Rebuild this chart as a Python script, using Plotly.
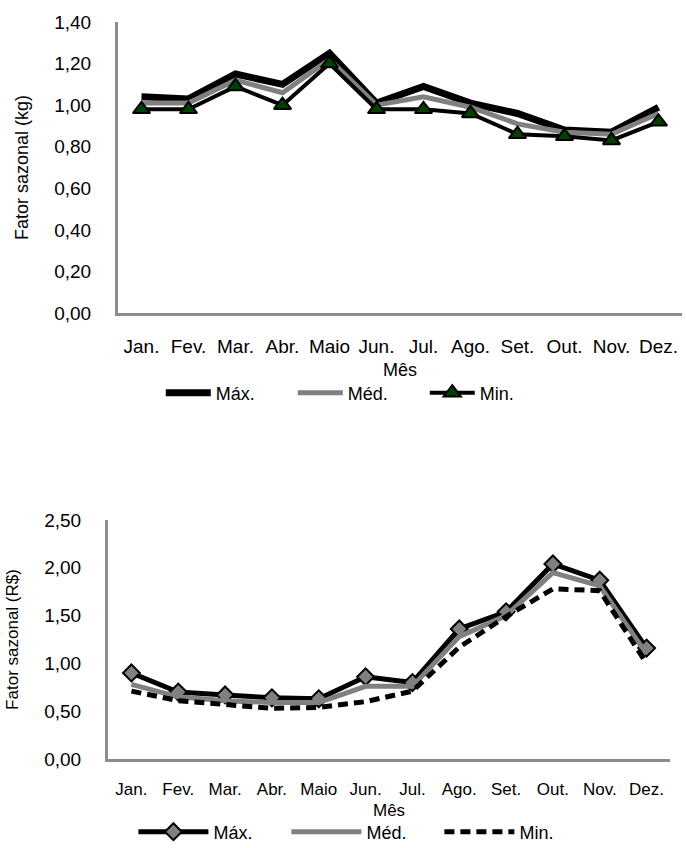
import plotly.graph_objects as go

# Monthly seasonal factors
months = ["Jan.", "Fev.", "Mar.", "Abr.", "Maio", "Jun.", "Jul.", "Ago.", "Set.", "Out.", "Nov.", "Dez."]

# Seasonal factor for quantity (kg)
kg_max = [1.04, 1.03, 1.15, 1.10, 1.25, 1.01, 1.09, 1.01, 0.96, 0.88, 0.87, 0.99]
kg_med = [1.01, 1.01, 1.12, 1.06, 1.22, 1.00, 1.04, 0.99, 0.91, 0.87, 0.86, 0.96]
kg_min = [0.98, 0.98, 1.09, 1.00, 1.20, 0.98, 0.98, 0.96, 0.86, 0.85, 0.83, 0.92]

# Seasonal factor for price (R$)
rs_max = [0.90, 0.70, 0.67, 0.64, 0.63, 0.86, 0.80, 1.36, 1.54, 2.04, 1.87, 1.16]
rs_med = [0.78, 0.65, 0.61, 0.59, 0.59, 0.76, 0.76, 1.28, 1.50, 1.95, 1.81, 1.10]
rs_min = [0.71, 0.61, 0.57, 0.53, 0.54, 0.60, 0.71, 1.17, 1.49, 1.78, 1.76, 1.00]

kg_ticks = [0, 0.2, 0.4, 0.6, 0.8, 1.0, 1.2, 1.4]
rs_ticks = [0, 0.5, 1.0, 1.5, 2.0, 2.5]

W, H = 686, 848
FONT = "Liberation Sans, Arial, sans-serif"
AXIS_GREY = "#8c8c8c"
GREY = "#808080"

fig = go.Figure()

# --- top chart (kg) ---
fig.add_trace(go.Scatter(x=months, y=kg_max, name="Máx.", mode="lines",
                         line=dict(color="black", width=7),
                         xaxis="x", yaxis="y", legend="legend"))
fig.add_trace(go.Scatter(x=months, y=kg_med, name="Méd.", mode="lines",
                         line=dict(color=GREY, width=5),
                         xaxis="x", yaxis="y", legend="legend"))
fig.add_trace(go.Scatter(x=months, y=kg_min, name="Min.", mode="lines+markers",
                         line=dict(color="black", width=4),
                         marker=dict(symbol="triangle-up", size=15, color="#004000",
                                     line=dict(color="black", width=2)),
                         xaxis="x", yaxis="y", legend="legend"))

# --- bottom chart (R$) ---
fig.add_trace(go.Scatter(x=months, y=rs_max, name="Máx.", mode="lines+markers",
                         line=dict(color="black", width=5),
                         marker=dict(symbol="diamond", size=13, color=GREY,
                                     line=dict(color="black", width=2)),
                         xaxis="x2", yaxis="y2", legend="legend2"))
fig.add_trace(go.Scatter(x=months, y=rs_med, name="Méd.", mode="lines",
                         line=dict(color=GREY, width=5),
                         xaxis="x2", yaxis="y2", legend="legend2"))
fig.add_trace(go.Scatter(x=months, y=rs_min, name="Min.", mode="lines",
                         line=dict(color="black", width=5, dash="10px,6px"),
                         xaxis="x2", yaxis="y2", legend="legend2"))


def xaxis_style(domain, anchor, size, standoff):
    return dict(domain=domain, anchor=anchor, type="category",
                range=[-0.5, 11.5], tickangle=0,
                showline=True, linecolor=AXIS_GREY, linewidth=3,
                showgrid=False, zeroline=False, ticks="",
                ticklabelstandoff=standoff,
                tickfont=dict(family=FONT, size=size, color="black"))


def yaxis_style(domain, anchor, rng, ticks, fmt_vals, title, size, tsize, tstand):
    return dict(domain=domain, anchor=anchor, range=rng,
                tickmode="array", tickvals=ticks, ticktext=fmt_vals,
                showline=True, linecolor=AXIS_GREY, linewidth=3,
                showgrid=False, zeroline=False, ticks="",
                ticklabelstandoff=20,
                tickfont=dict(family=FONT, size=size, color="black"),
                title=dict(text=title, standoff=tstand,
                           font=dict(family=FONT, size=tsize, color="black")))


def comma(v):
    return f"{v:.2f}".replace(".", ",")


fig.update_layout(
    width=W, height=H,
    margin=dict(l=0, r=0, t=0, b=0, autoexpand=False),
    paper_bgcolor="white", plot_bgcolor="white",
    font=dict(family=FONT, color="black"),
    xaxis=xaxis_style([118 / W, 682 / W], "y", 19, 14),
    yaxis=yaxis_style([1 - 313 / H, 1 - 22 / H], "x", [0, 1.4], kg_ticks,
                      [comma(v) for v in kg_ticks], "Fator sazonal (kg)", 19, 18, 21),
    xaxis2=xaxis_style([108 / W, 670 / W], "y2", 17, 13),
    yaxis2=yaxis_style([1 - 759 / H, 1 - 520 / H], "x2", [0, 2.5], rs_ticks,
                       [comma(v) for v in rs_ticks], "Fator sazonal (R$)", 19, 17, 22),
    legend=dict(orientation="h", x=0.523, xanchor="center", y=1 - 393 / H, yanchor="middle",
                font=dict(family=FONT, size=18, color="black"),
                itemwidth=45, entrywidth=72, entrywidthmode="pixels",
                bgcolor="rgba(0,0,0,0)"),
    legend2=dict(orientation="h", x=0.529, xanchor="center", y=1 - 832 / H, yanchor="middle",
                 font=dict(family=FONT, size=18, color="black"),
                 itemwidth=70, entrywidth=68, entrywidthmode="pixels",
                 bgcolor="rgba(0,0,0,0)"),
    annotations=[
        dict(text="Mês", x=400 / W, y=1 - 370 / H, xref="paper", yref="paper",
             yanchor="middle", showarrow=False,
             font=dict(family=FONT, size=18, color="black")),
        dict(text="Mês", x=389 / W, y=1 - 810 / H, xref="paper", yref="paper",
             yanchor="middle", showarrow=False,
             font=dict(family=FONT, size=17, color="black")),
    ],
)

fig.write_html("out.html")
